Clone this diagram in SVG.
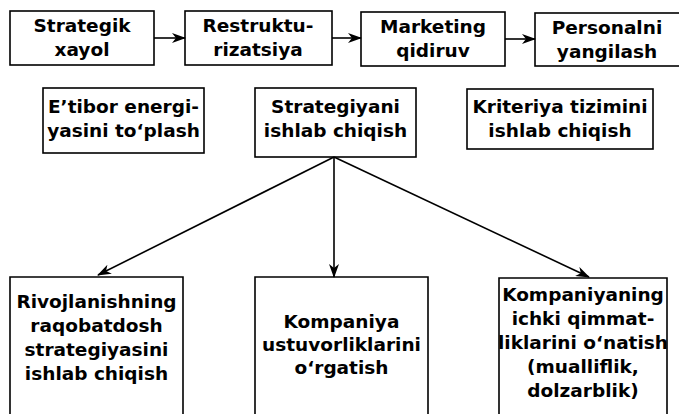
<svg xmlns="http://www.w3.org/2000/svg" width="679" height="414" viewBox="0 0 679 414">
<style>
.box{fill:#fff;stroke:#000;stroke-width:1.6}
.t{font-family:"DejaVu Sans","Liberation Sans",sans-serif;font-weight:bold;font-size:18.5px;fill:#000;text-anchor:middle}
.c{stroke:#000;stroke-width:1.6;fill:none}
</style>
<defs>
<marker id="ah" viewBox="0 0 14 10" refX="13" refY="5" markerWidth="14" markerHeight="10" markerUnits="userSpaceOnUse" orient="auto">
<path d="M0,0 L14,5 L0,10 L4,5 Z" fill="#000"/>
</marker>
</defs>
<rect width="679" height="414" fill="#fff"/>
<g id="n1"><rect class="box" x="10" y="11" width="144" height="54"/><text class="t" x="82" y="32">Strategik</text><text class="t" x="82" y="56">xayol</text></g>
<g id="n2"><rect class="box" x="185" y="11" width="147" height="54"/><text class="t" x="258" y="32">Restruktu-</text><text class="t" x="258" y="56">rizatsiya</text></g>
<g id="n3"><rect class="box" x="361" y="12" width="144" height="54"/><text class="t" x="433" y="33">Marketing</text><text class="t" x="433" y="57">qidiruv</text></g>
<g id="n4"><rect class="box" x="535" y="13" width="145" height="53"/><text class="t" x="607" y="34">Personalni</text><text class="t" x="607" y="58">yangilash</text></g>
<g id="n5"><rect class="box" x="43" y="88" width="161" height="65"/><text class="t" x="123.5" y="113">E’tibor energi-</text><text class="t" x="123.5" y="137">yasini to‘plash</text></g>
<g id="n6"><rect class="box" x="255" y="88" width="161" height="69"/><text class="t" x="335.5" y="113">Strategiyani</text><text class="t" x="335.5" y="137">ishlab chiqish</text></g>
<g id="n7"><rect class="box" x="467" y="89" width="186" height="60"/><text class="t" x="560" y="113">Kriteriya tizimini</text><text class="t" x="560" y="137">ishlab chiqish</text></g>
<g id="n8"><path class="box" d="M10,416 V277 H183 V416"/><text class="t" x="96.5" y="308">Rivojlanishning</text><text class="t" x="96.5" y="332">raqobatdosh</text><text class="t" x="96.5" y="356">strategiyasini</text><text class="t" x="96.5" y="380">ishlab chiqish</text></g>
<g id="n9"><path class="box" d="M255,416 V277 H428 V416"/><text class="t" x="341.5" y="328">Kompaniya</text><text class="t" x="341.5" y="351">ustuvorliklarini</text><text class="t" x="341.5" y="374">o‘rgatish</text></g>
<g id="n10"><path class="box" d="M499,416 V278 H667 V416"/><text class="t" x="583" y="301">Kompaniyaning</text><text class="t" x="583" y="325">ichki qimmat-</text><text class="t" x="583" y="349">liklarini o‘natish</text><text class="t" x="583" y="373">(mualliflik,</text><text class="t" x="583" y="397">dolzarblik)</text></g>
<g id="connectors">
<line class="c" x1="154" y1="38" x2="185" y2="38" marker-end="url(#ah)"/>
<line class="c" x1="332" y1="38" x2="361" y2="38" marker-end="url(#ah)"/>
<line class="c" x1="505" y1="39" x2="535" y2="39" marker-end="url(#ah)"/>
<line class="c" x1="334" y1="157" x2="98" y2="275" marker-end="url(#ah)"/>
<line class="c" x1="334" y1="157" x2="334" y2="277" marker-end="url(#ah)"/>
<line class="c" x1="334" y1="157" x2="589" y2="277" marker-end="url(#ah)"/>
</g>
</svg>
